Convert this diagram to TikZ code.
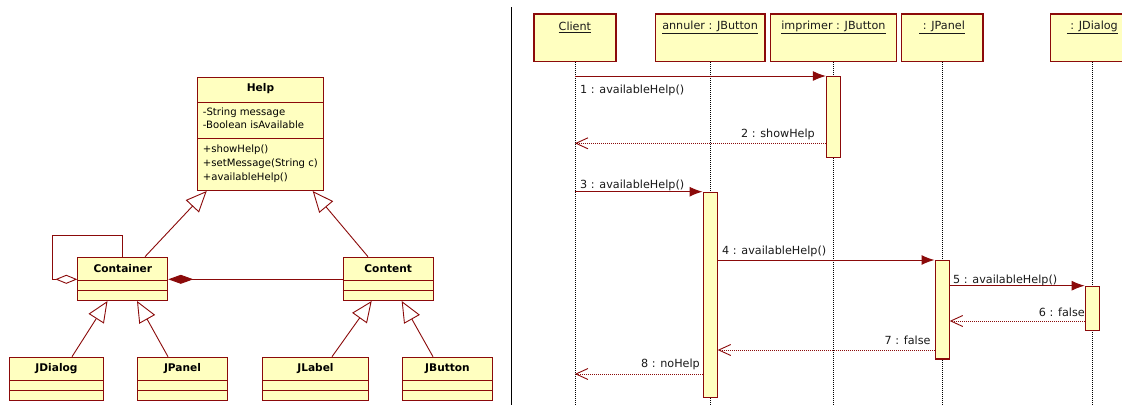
\documentclass[tikz,border=0pt]{standalone}
\usepackage{fontspec}
\setmainfont{DejaVu Sans}
\usetikzlibrary{arrows.meta,calc}
\definecolor{umlred}{HTML}{8B0A0A}
\definecolor{umlfill}{HTML}{FFFFC0}
\definecolor{umltext}{HTML}{1A1A1A}
\newcommand\mkclass[5]{%
  \node[box, minimum width=#4pt, minimum height=43.3pt] (#1) at (#2,#3) {};
  \draw[sep] ($(#1.north west)+(0,23.8)$) -- ($(#1.north east)+(0,23.8)$);
  \draw[sep] ($(#1.north west)+(0,33.3)$) -- ($(#1.north east)+(0,33.3)$);
  \node[cname] (#1-name) at ($(#1.north)+(0,12.3)$) {#5};
}
\begin{document}
\begin{tikzpicture}[x=1pt,y=-1pt,
  box/.style={draw=umlred, fill=umlfill, line width=1pt, inner sep=0pt, anchor=north west},
  sep/.style={draw=umlred, line width=0.9pt},
  txt/.style={inner sep=0pt, text=black, font=\fontsize{10.1}{12}\selectfont},
  cname/.style={inner sep=0pt, text=black, font=\fontsize{10.6}{12}\selectfont\bfseries},
  gen/.style={draw=umlred, line width=0.9pt, -{Triangle[open,length=21pt,width=18pt]}},
  agg/.style={draw=umlred, line width=0.9pt, -{Diamond[open,length=22pt,width=9pt]}},
  comp/.style={draw=umlred, line width=0.9pt, -{Diamond[length=25pt,width=9pt]}},
  hbox/.style={draw=umlred, fill=umlfill, line width=1.2pt, anchor=north west, inner sep=0pt, minimum height=47.4pt},
  htxt/.style={inner sep=0pt, text=umltext, font=\fontsize{11.2}{13}\selectfont},
  life/.style={draw=black, line width=0.8pt, dash pattern=on 1pt off 1pt},
  act/.style={draw=umlred, fill=umlfill, line width=1.2pt, anchor=north, inner sep=0pt, minimum width=14pt},
  sync/.style={draw=umlred, line width=1pt, -{Latex[length=13pt,width=10pt]}},
  ret/.style={draw=umlred, line width=0.9pt, dash pattern=on 1pt off 1pt, -{Straight Barb[length=12pt,width=11pt]}},
  mtxt/.style={inner sep=0pt, text=umltext, font=\fontsize{11.2}{13}\selectfont},
]
\useasboundingbox (0,0) rectangle (1122,405);
\fill[white] (0,0) rectangle (1122,405);

% ---------- class diagram ----------
\node[box, minimum width=125.4pt, minimum height=113.3pt] (help) at (197.3,76.7) {};
\draw[sep] ($(help.north west)+(0,25.6)$) -- ($(help.north east)+(0,25.6)$);
\draw[sep] ($(help.north west)+(0,61.6)$) -- ($(help.north east)+(0,61.6)$);
\node[cname] (help-name) at ($(help.north)+(0,11.6)$) {Help};
\node[txt, anchor=west] (attr1) at (202.7,112.3) {-String message};
\node[txt, anchor=west] (attr2) at (202.7,125) {-Boolean isAvailable};
\node[txt, anchor=west] (op1) at (202.7,150) {+showHelp()};
\node[txt, anchor=west] (op2) at (202.7,163.7) {+setMessage(String c)};
\node[txt, anchor=west] (op3) at (202.7,177.3) {+availableHelp()};

\mkclass{container}{77.3}{256.7}{90}{Container}
\mkclass{content}{342.7}{256.7}{90}{Content}
\mkclass{jdialog}{9}{356.7}{94}{JDialog}
\mkclass{jpanel}{137}{356.7}{90}{JPanel}
\mkclass{jlabel}{262}{356.7}{106}{JLabel}
\mkclass{jbutton}{402}{356.7}{90}{JButton}

\draw[gen] ($(container.north west)+(67.7,0)$) -- ($(help.south west)+(9.4,0)$);
\draw[gen] ($(content.north west)+(25.3,0)$) -- ($(help.south east)+(-11,0)$);
\draw[gen] ($(jdialog.north west)+(63,0)$) -- ($(container.south west)+(30.2,0)$);
\draw[gen] ($(jpanel.north west)+(31,0)$) -- ($(container.south west)+(59.7,0)$);
\draw[gen] ($(jlabel.north west)+(70,0)$) -- ($(content.south west)+(29,0)$);
\draw[gen] ($(jbutton.north west)+(31,0)$) -- ($(content.south west)+(59,0)$);

\draw[agg] ($(container.north west)+(45.4,0)$) |- ($(container.north west)+(-25,-21.7)$) |- ($(container.north west)+(0,22.6)$);
\draw[comp] ($(content.north west)+(0,22.6)$) -- ($(container.north east)+(0,22.6)$);

% ---------- divider ----------
\draw[black, line width=1.2pt] (511.7,7) -- (511.7,405);

% ---------- sequence diagram ----------
\coordinate (bottom) at (0,405);
\node[hbox, minimum width=82pt] (client) at (533.3,13.3) {};
\node[hbox, minimum width=109.6pt] (annuler) at (654.7,13.3) {};
\node[hbox, minimum width=125.7pt] (imprimer) at (770,13.3) {};
\node[hbox, minimum width=81.6pt] (jp) at (900.7,13.3) {};
\node[hbox, minimum width=83.4pt] (jd) at (1050,13.3) {};
\node[htxt] (client-t) at ($(client.north)+(0,14)$) {\underline{Client}};
\node[htxt] (annuler-t) at ($(annuler.north)+(0,14)$) {\underline{annuler : JButton}};
\node[htxt] (imprimer-t) at ($(imprimer.north)+(0,14)$) {\underline{imprimer : JButton}};
\node[htxt] (jp-t) at ($(jp.north)+(0,14)$) {\underline{ : JPanel}};
\node[htxt] (jd-t) at ($(jd.north)+(0,14)$) {\underline{ : JDialog}};

\draw[life] (client.south) -- (client.south |- bottom);
\draw[life] (annuler.south) -- (annuler.south |- bottom);
\draw[life] (imprimer.south) -- (imprimer.south |- bottom);
\draw[life] (jp.south) -- (jp.south |- bottom);
\draw[life] (jd.south) -- (jd.south |- bottom);

\coordinate (y1) at (0,76);
\coordinate (y2) at (0,143.3);
\coordinate (y3) at (0,191.7);
\coordinate (y4) at (0,260);
\coordinate (y5) at (0,285.7);
\coordinate (y6) at (0,321);
\coordinate (y7) at (0,350);
\coordinate (y8) at (0,374);

\node[act, minimum height=80.7pt] (act1) at (imprimer.south |- y1) {};
\node[act, minimum height=205pt] (act2) at (annuler.south |- y3) {};
\node[act, minimum height=98.3pt] (act3) at (jp.south |- y4) {};
\node[act, minimum height=44.3pt] (act4) at (jd.south |- y5) {};

\draw[sync] (client.south |- act1.north) -- (act1.north west);
\draw[ret] (act1.west |- y2) -- (client.south |- y2);
\draw[sync] (client.south |- act2.north) -- (act2.north west);
\draw[sync] (act2.east |- act3.north) -- (act3.north west);
\draw[sync] (act3.east |- act4.north) -- (act4.north west);
\draw[ret] (act4.west |- y6) -- (act3.east |- y6);
\draw[ret] (act3.west |- y7) -- (act2.east |- y7);
\draw[ret] (act2.west |- y8) -- (client.south |- y8);

\node[mtxt, anchor=west] (l1) at (580,90) {1 : availableHelp()};
\node[mtxt, anchor=east] (l2) at (815,134) {2 : showHelp};
\node[mtxt, anchor=west] (l3) at (580,185) {3 : availableHelp()};
\node[mtxt, anchor=west] (l4) at (722,251) {4 : availableHelp()};
\node[mtxt, anchor=west] (l5) at (953,280) {5 : availableHelp()};
\node[mtxt, anchor=east] (l6) at (1085,312.3) {6 : false};
\node[mtxt, anchor=east] (l7) at (930.7,340.7) {7 : false};
\node[mtxt, anchor=east] (l8) at (700,364) {8 : noHelp};
\end{tikzpicture}
\end{document}
